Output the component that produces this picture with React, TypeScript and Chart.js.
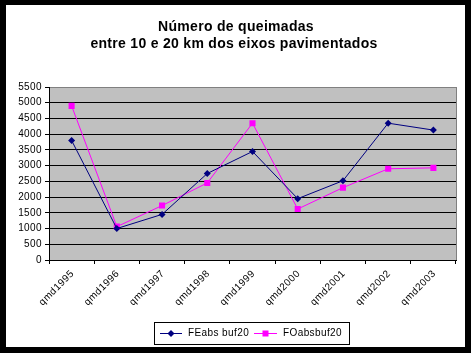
import React, { useEffect, useRef } from "react";
import { Chart, registerables } from "chart.js";

Chart.register(...registerables);

const categories = ["qmd1995", "qmd1996", "qmd1997", "qmd1998", "qmd1999", "qmd2000", "qmd2001", "qmd2002", "qmd2003"];
const feabs = [3800, 1000, 1450, 2750, 3450, 1950, 2520, 4350, 4130];
const foabs = [4900, 1060, 1730, 2450, 4350, 1620, 2300, 2900, 2930];
const seriesNames = ["FEabs buf20", "FOabsbuf20"];
const titleLines = ["Número de queimadas", "entre 10 e 20 km dos eixos pavimentados"];
const yMax = 5500;
const yStep = 500;

const FONT = "'Liberation Sans', Arial, sans-serif";

const framePlugin = {
  id: "frame",
  beforeDraw(chart: any) {
    const { ctx, width, height, chartArea } = chart;
    (ctx as any).letterSpacing = "0.4px";
    ctx.save();
    ctx.fillStyle = "#000";
    ctx.fillRect(0, 0, width, height);
    ctx.fillStyle = "#fff";
    ctx.fillRect(6, 5, 459, 342);
    ctx.fillStyle = "#C0C0C0";
    ctx.fillRect(chartArea.left, chartArea.top, chartArea.right - chartArea.left, chartArea.bottom - chartArea.top);
    ctx.restore();
  },
  afterDatasetsDraw(chart: any) {
    const { ctx, chartArea } = chart;
    ctx.save();
    ctx.strokeStyle = "#808080";
    ctx.lineWidth = 1;
    ctx.beginPath();
    ctx.moveTo(chartArea.right + 0.5, chartArea.top);
    ctx.lineTo(chartArea.right + 0.5, chartArea.bottom);
    ctx.stroke();
    ctx.restore();
  },
  afterDraw(chart: any) {
    const { ctx } = chart;
    ctx.save();
    // x labels
    const xs = chart.scales.x;
    ctx.fillStyle = "#000";
    ctx.font = "10px " + FONT;
    (ctx as any).letterSpacing = "0.5px";
    categories.forEach((c, i) => {
      const cx = xs.getPixelForValue(i);
      ctx.save();
      ctx.translate(cx + 1, chart.chartArea.bottom + 12);
      ctx.rotate(-Math.PI / 4);
      ctx.textAlign = "right";
      ctx.textBaseline = "middle";
      ctx.fillText(c, 0, 0);
      ctx.restore();
    });
    // title
    ctx.fillStyle = "#000";
    ctx.font = "bold 14px " + FONT;
    (ctx as any).letterSpacing = "0.3px";
    ctx.textAlign = "center";
    ctx.textBaseline = "middle";
    ctx.fillText(titleLines[0], 236, 27);
    ctx.fillText(titleLines[1], 234, 44);
    // legend
    (ctx as any).letterSpacing = "0.4px";
    ctx.strokeStyle = "#000";
    ctx.lineWidth = 1;
    ctx.strokeRect(154.5, 322.5, 195, 22);
    const ly = 333.5;
    const items = [
      { x0: 160, x1: 182, text: 188, color: "#000080", style: "diamond" },
      { x0: 254, x1: 277, text: 283, color: "#FF00FF", style: "square" },
    ];
    items.forEach((it, i) => {
      ctx.strokeStyle = it.color;
      ctx.beginPath();
      ctx.moveTo(it.x0, ly);
      ctx.lineTo(it.x1, ly);
      ctx.stroke();
      const cx = (it.x0 + it.x1) / 2;
      ctx.fillStyle = it.color;
      if (it.style === "diamond") {
        ctx.beginPath();
        ctx.moveTo(cx, ly - 3.5);
        ctx.lineTo(cx + 3.5, ly);
        ctx.lineTo(cx, ly + 3.5);
        ctx.lineTo(cx - 3.5, ly);
        ctx.closePath();
        ctx.fill();
      } else {
        ctx.fillRect(cx - 3, ly - 3, 6, 6);
      }
      ctx.fillStyle = "#000";
      ctx.font = "10px " + FONT;
      ctx.textAlign = "left";
      ctx.textBaseline = "middle";
      ctx.fillText(seriesNames[i], it.text, ly);
    });
    ctx.restore();
  },
};

export default function App() {
  const ref = useRef<HTMLCanvasElement>(null);
  useEffect(() => {
    document.body.style.margin = "0";
    const chart = new Chart(ref.current!, {
      type: "line",
      data: {
        labels: categories,
        datasets: [
          {
            label: seriesNames[0],
            data: feabs,
            borderColor: "#000080",
            backgroundColor: "#000080",
            borderWidth: 1,
            pointStyle: "rectRot",
            pointRadius: 3.5,
            pointBorderWidth: 0,
          },
          {
            label: seriesNames[1],
            data: foabs,
            borderColor: "#FF00FF",
            backgroundColor: "#FF00FF",
            borderWidth: 1,
            pointStyle: "rect",
            pointRadius: 4.3,
            pointBorderWidth: 0,
          },
        ],
      },
      options: {
        animation: false,
        responsive: false,
        layout: { padding: { left: 0, right: 15, top: 87, bottom: 38 } },
        plugins: { legend: { display: false }, title: { display: false }, tooltip: { enabled: false } },
        scales: {
          x: {
            offset: true,
            afterFit: (s: any) => { s.height = 55; },
            grid: { offset: true, drawOnChartArea: false, drawTicks: true, tickLength: 4, color: "#000" },
            border: { color: "#000", width: 1 },
            ticks: { display: false, autoSkip: false },
          },
          y: {
            min: 0,
            max: yMax,
            afterFit: (s: any) => { s.width = 49; },
            grid: {
              color: (c: any) => (c.tick && c.tick.value === yMax ? "#808080" : "#000"),
              tickColor: "#000",
              tickLength: 4,
            },
            border: { color: "#000", width: 1 },
            ticks: {
              stepSize: yStep,
              color: "#000",
              font: { family: FONT, size: 10 },
              padding: 3,
              callback: (v: any) => String(v),
            },
          },
        },
      },
      plugins: [framePlugin],
    });
    return () => chart.destroy();
  }, []);
  return (
    <div style={{ position: "absolute", left: 0, top: 0, width: 471, height: 353 }}>
      <canvas ref={ref} width={471} height={353} style={{ width: 471, height: 353 }} />
    </div>
  );
}
